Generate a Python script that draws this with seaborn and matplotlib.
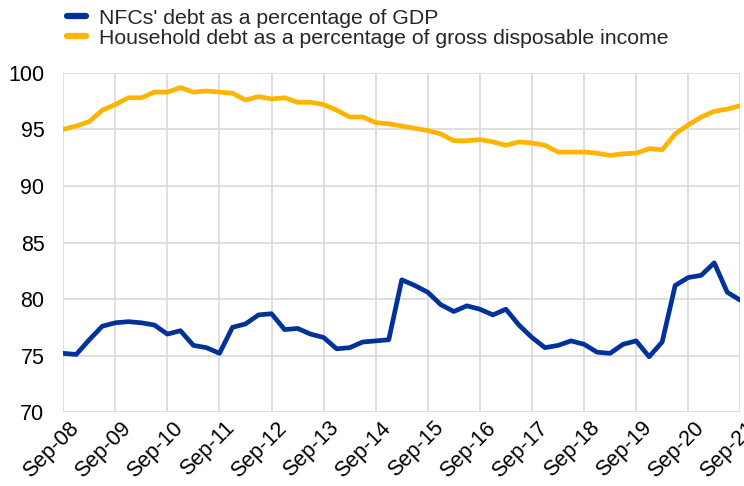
import numpy as np
import pandas as pd
import matplotlib
matplotlib.use("Agg")
import matplotlib.pyplot as plt
import matplotlib.transforms as mtransforms
import seaborn as sns

# quarterly observations, Sep-08 .. Sep-21
quarters = pd.period_range("2008Q3", "2021Q3", freq="Q")

nfc_debt = [75.2, 75.1, 76.4, 77.6, 77.9, 78.0, 77.9, 77.7, 76.9, 77.2,
            75.9, 75.7, 75.2, 77.5, 77.8, 78.6, 78.7, 77.3, 77.4, 76.9,
            76.6, 75.6, 75.7, 76.2, 76.3, 76.4, 81.7, 81.2, 80.6, 79.5,
            78.9, 79.4, 79.1, 78.6, 79.1, 77.7, 76.6, 75.7, 75.9, 76.3,
            76.0, 75.3, 75.2, 76.0, 76.3, 74.9, 76.2, 81.2, 81.9, 82.1,
            83.2, 80.6, 79.9]

hh_debt = [95.0, 95.3, 95.7, 96.7, 97.2, 97.8, 97.8, 98.3, 98.3, 98.7,
           98.3, 98.4, 98.3, 98.2, 97.6, 97.9, 97.7, 97.8, 97.4, 97.4,
           97.2, 96.7, 96.1, 96.1, 95.6, 95.5, 95.3, 95.1, 94.9, 94.6,
           94.0, 94.0, 94.1, 93.9, 93.6, 93.9, 93.8, 93.6, 93.0, 93.0,
           93.0, 92.9, 92.7, 92.85, 92.9, 93.3, 93.2, 94.6, 95.4, 96.1,
           96.6, 96.8, 97.1]

tick_labels = ["Sep-08", "Sep-09", "Sep-10", "Sep-11", "Sep-12", "Sep-13", "Sep-14",
               "Sep-15", "Sep-16", "Sep-17", "Sep-18", "Sep-19", "Sep-20", "Sep-21"]

df = pd.DataFrame({"q": np.arange(len(quarters)), "nfc": nfc_debt, "hh": hh_debt})

sns.set_style("white")
plt.rcParams["font.family"] = ["Liberation Sans", "DejaVu Sans"]

fig, ax = plt.subplots(figsize=(7.44, 4.86), dpi=100)
fig.subplots_adjust(left=0.085, right=0.995, top=0.85, bottom=0.152)

sns.lineplot(data=df, x="q", y="nfc", ax=ax, color="#003299", linewidth=3.4,
             label="NFCs' debt as a percentage of GDP")
sns.lineplot(data=df, x="q", y="hh", ax=ax, color="#FFB400", linewidth=3.4,
             label="Household debt as a percentage of gross disposable income")

ax.set_xlim(0, len(quarters) - 1)
ax.set_ylim(70, 100)
ax.set_yticks([70, 75, 80, 85, 90, 95, 100])
ax.set_xticks(np.arange(0, len(quarters), 4))
ax.set_xticklabels(tick_labels, rotation=45, ha="right", rotation_mode="anchor")
ax.set_xlabel("")
ax.set_ylabel("")
ax.tick_params(axis="both", length=0, labelsize=15.5, colors="black")
ax.tick_params(axis="x", pad=4)
ax.tick_params(axis="y", pad=13.5)

# nudge the rotated date labels a little to the right, like the original
shift = mtransforms.ScaledTranslation(0.05, 0, fig.dpi_scale_trans)
for lab in ax.get_xticklabels():
    lab.set_transform(lab.get_transform() + shift)

ax.grid(True, color="#d9d9d9", linewidth=1.2)
ax.set_axisbelow(True)
for s in ax.spines.values():
    s.set_visible(False)

leg = ax.legend(loc="upper left", bbox_to_anchor=(0.079, 1.0), bbox_transform=fig.transFigure,
                frameon=False, fontsize=15.3, handlelength=0.9, handletextpad=0.6,
                labelspacing=0.05, borderaxespad=0)
for h in leg.get_lines():
    h.set_linewidth(4.5)

fig.savefig("out.png", dpi=100)
